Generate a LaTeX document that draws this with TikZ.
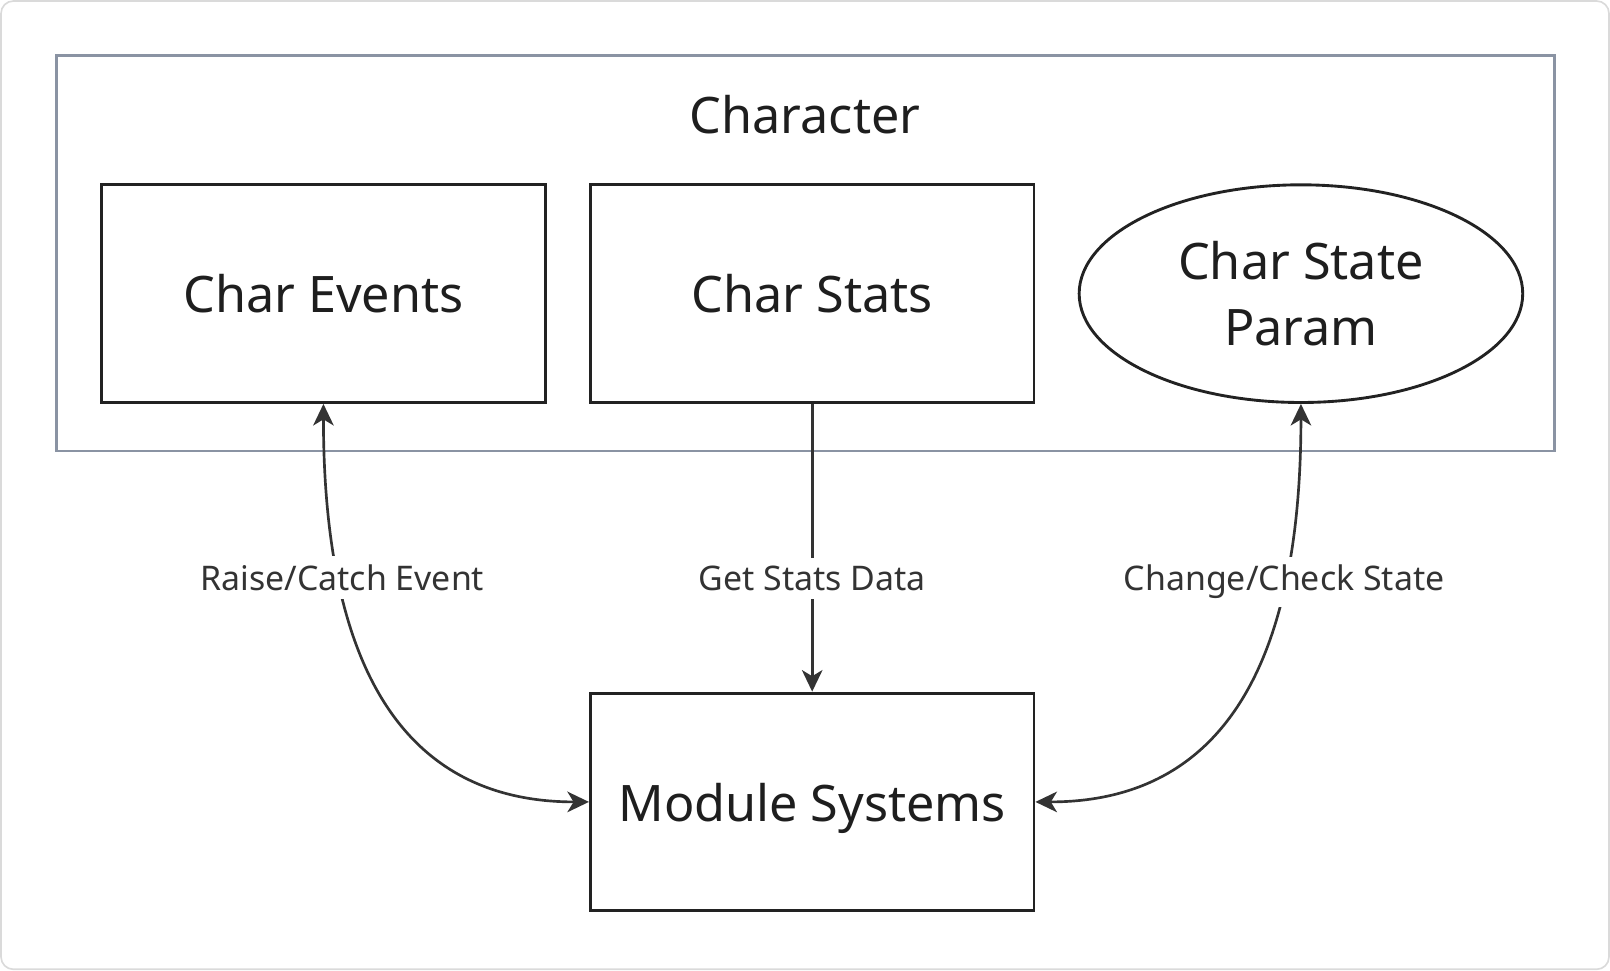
\documentclass[tikz,border=0pt]{standalone}
\usepackage{fontspec}
\setmainfont{Noto Sans}
\usetikzlibrary{shapes.geometric,arrows.meta}
\definecolor{boxline}{HTML}{222222}
\definecolor{connline}{HTML}{333333}
\definecolor{contline}{HTML}{8A93A3}
\definecolor{frameline}{HTML}{DADADA}
\definecolor{txt}{HTML}{1E1E1E}
\definecolor{lbltxt}{HTML}{333333}
\tikzset{
  bigtext/.style={font=\fontsize{24.5pt}{32.5pt}\selectfont, text=txt, align=center},
  box/.style={bigtext, draw=boxline, line width=1.4pt, rectangle, minimum width=216pt, minimum height=106pt, inner sep=0pt, text depth=0pt},
  ellbox/.style={bigtext, draw=boxline, line width=1.4pt, ellipse, minimum width=216pt, minimum height=106pt, inner sep=0pt},
  container/.style={draw=contline, line width=1.1pt, rectangle, minimum width=729.5pt, minimum height=192.5pt, inner sep=0pt},
  conn/.style={draw=connline, line width=1.3pt},
  mytip/.tip={Stealth[length=10.5pt,width=10pt,inset=3pt]},
  lbl/.style={font=\fontsize{16.5pt}{20pt}\selectfont, text=lbltxt, fill=white, inner xsep=1pt, inner ysep=4pt}
}
\begin{document}
\begin{tikzpicture}[x=0.5pt,y=-0.5pt]
\useasboundingbox (0,0) rectangle (1568,945);
\draw[rounded corners=6pt, draw=frameline, line width=0.8pt] (1,1) rectangle (1567,944);
\node[container] (cont) at (784.5,246.5) {};
\node[bigtext] (title) at (784,112) {Character};
\node[box] (ev) at (315,286) {Char Events};
\node[box] (st) at (791,286) {Char Stats};
\node[ellbox] (sp) at (1267,286) {Char State\\Param};
\node[box] (mod) at (791,781) {Module Systems};
\draw[conn, mytip-mytip] (ev.south) .. controls +(0,300) and +(-150,0) .. node[lbl, pos=0.215, yshift=-2pt, xshift=2pt] {Raise/Catch Event} (mod.west);
\draw[conn, -mytip] (st.south) -- node[lbl, pos=0.6, yshift=-1pt] {Get Stats Data} (mod.north);
\draw[conn, mytip-mytip] (sp.south) .. controls +(0,300) and +(150,0) .. node[lbl, pos=0.215, yshift=-4pt, xshift=-1pt] {Change/Check State} (mod.east);
\end{tikzpicture}
\end{document}
